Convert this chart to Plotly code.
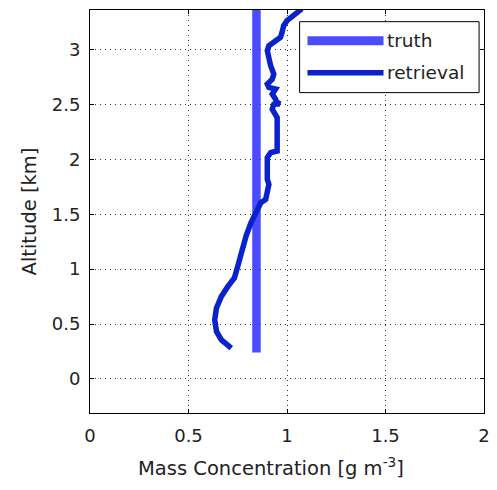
import plotly.graph_objects as go

truth_x = [0.845, 0.845]
truth_y = [0.24, 3.40]

ret_x = [0.717, 0.667, 0.642, 0.633, 0.642, 0.667, 0.700, 0.733, 0.750, 0.767, 0.792, 0.817, 0.850,
         0.867, 0.892, 0.900, 0.908, 0.900, 0.900, 0.917, 0.950, 0.950, 0.925, 0.933, 0.958,
         0.950, 0.942, 0.925, 0.942, 0.908, 0.900, 0.925, 0.933, 0.917, 0.908, 0.900, 0.908,
         0.933, 0.967, 0.975, 0.983, 1.000, 1.042, 1.075]
ret_y = [0.280, 0.356, 0.432, 0.539, 0.646, 0.752, 0.843, 0.920, 1.026, 1.148, 1.300, 1.422, 1.528,
         1.605, 1.635, 1.696, 1.772, 1.817, 2.016, 2.061, 2.076, 2.381, 2.457, 2.502, 2.532,
         2.487, 2.548, 2.594, 2.640, 2.655, 2.685, 2.730, 2.776, 2.852, 2.929, 2.989, 3.035,
         3.066, 3.111, 3.157, 3.217, 3.263, 3.324, 3.370]

x_ticks = [0, 0.5, 1, 1.5, 2]
x_labels = ["0", "0.5", "1", "1.5", "2"]
y_ticks = [0, 0.5, 1, 1.5, 2, 2.5, 3]
y_labels = ["0", "0.5", "1", "1.5", "2", "2.5", "3"]

legend_names = ["truth", "retrieval"]
truth_color = "#4b4bff"
ret_color = "#0a22cc"

FAM = "DejaVu Sans, Verdana, sans-serif"
font = dict(family=FAM, size=18, color="#222222")
title_font = dict(family=FAM, size=19.5, color="#222222")

fig = go.Figure()
fig.add_trace(go.Scatter(x=truth_x, y=truth_y, mode="lines", name=legend_names[0],
                         line=dict(color=truth_color, width=8.5), showlegend=False))
fig.add_trace(go.Scatter(x=ret_x, y=ret_y, mode="lines", name=legend_names[1],
                         line=dict(color=ret_color, width=5.5), showlegend=False))

# manual legend (box, samples, labels) in paper coordinates
fig.add_shape(type="rect", xref="paper", yref="paper", x0=0.532, x1=0.9875, y0=0.795, y1=0.971,
              line=dict(color="black", width=1), fillcolor="white", layer="above")
legend_rows = [(0.924, truth_color, 9), (0.844, ret_color, 5.5)]
for name, (yy, col, w) in zip(legend_names, legend_rows):
    fig.add_shape(type="line", xref="paper", yref="paper", x0=0.552, x1=0.745, y0=yy, y1=yy,
                  line=dict(color=col, width=w), layer="above")
    fig.add_annotation(xref="paper", yref="paper", x=0.749, y=yy, text=name, showarrow=False,
                       xanchor="left", yanchor="middle", font=dict(family=FAM, size=18.5, color="#222222"))

# x-axis title (placed slightly left of centre, as in the reference)
fig.add_annotation(xref="paper", yref="paper", x=0.1175, y=-0.134, xanchor="left", yanchor="middle",
                   text="Mass Concentration [g m<sup>-3</sup>]", showarrow=False, font=title_font)

axis_common = dict(showline=True, linecolor="black", linewidth=1, mirror="ticks",
                   ticks="inside", ticklen=4, tickcolor="black",
                   showgrid=True, gridcolor="#333333", griddash="1px,4px", gridwidth=1,
                   zeroline=False, tickfont=font)
fig.update_layout(
    width=497, height=490,
    margin=dict(l=90, r=7, t=10, b=77),
    paper_bgcolor="white", plot_bgcolor="white",
    font=font,
    showlegend=False,
    xaxis=dict(range=[0, 2], tickvals=x_ticks, ticktext=x_labels, ticklabelstandoff=6, **axis_common),
    yaxis=dict(range=[-0.31, 3.36], tickvals=y_ticks, ticktext=y_labels, ticklabelstandoff=5,
               title=dict(text="Altitude [km]", font=title_font, standoff=9), **axis_common),
)
fig.write_html("out.html")
